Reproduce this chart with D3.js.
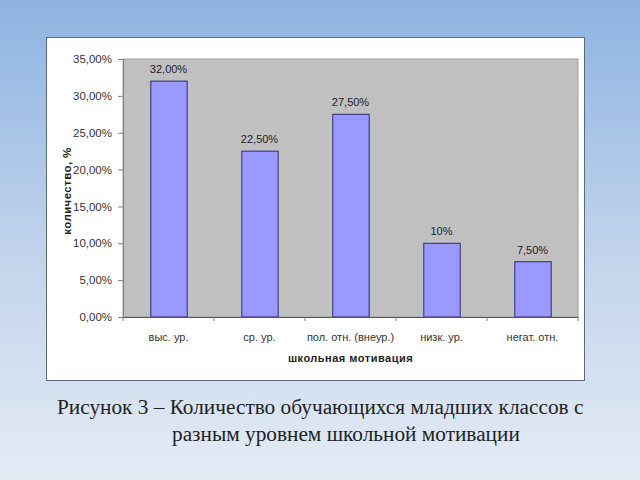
<!DOCTYPE html>
<html><head><meta charset="utf-8">
<script src="https://cdn.jsdelivr.net/npm/d3@7"></script>
<style>body{margin:0;padding:0;overflow:hidden}</style>
</head><body>
<svg id="c" width="640" height="480"></svg>
<script>
const categories = ["выс. ур.", "ср. ур.", "пол. отн. (внеур.)", "низк. ур.", "негат. отн."];
const values = [32, 22.5, 27.5, 10, 7.5];
const valueLabels = ["32,00%", "22,50%", "27,50%", "10%", "7,50%"];
const yTicks = [0, 5, 10, 15, 20, 25, 30, 35];
const yTickLabels = ["0,00%", "5,00%", "10,00%", "15,00%", "20,00%", "25,00%", "30,00%", "35,00%"];
const yTitle = "количество, %";
const xTitle = "школьная мотивация";
const caption1 = "Рисунок 3 – Количество обучающихся младших классов с";
const caption2 = "разным уровнем школьной мотивации";

const svg = d3.select("#c");
const defs = svg.append("defs");
const g = defs.append("linearGradient").attr("id","bg").attr("x1",0).attr("y1",0).attr("x2",0).attr("y2",1);
g.append("stop").attr("offset","0%").attr("stop-color","#8db3e2");
g.append("stop").attr("offset","55%").attr("stop-color","#c3d5ec");
g.append("stop").attr("offset","100%").attr("stop-color","#e4ebf5");
svg.append("rect").attr("width",640).attr("height",480).attr("fill","url(#bg)");

// white panel
svg.append("rect").attr("x",46.5).attr("y",37.5).attr("width",538).attr("height",343)
  .attr("fill","#ffffff").attr("stroke","#5b6b7c").attr("stroke-width",1);

const pL=123, pR=578, pT=59, pB=317;
const x = d3.scaleBand().domain(categories).range([pL,pR]).paddingInner(0.6).paddingOuter(0.3);
const xb = d3.scaleBand().domain(categories).range([pL,pR]);
const y = d3.scaleLinear().domain([0,35]).range([pB,pT]);

svg.append("rect").attr("x",pL).attr("y",pT).attr("width",pR-pL).attr("height",pB-pT)
  .attr("fill","#c0c0c0").attr("stroke","#a0a0a0").attr("stroke-width",1);

svg.selectAll("rect.bar").data(values).enter().append("rect").attr("class","bar")
  .attr("x",(d,i)=>x(categories[i])+0.5).attr("y",d=>y(d))
  .attr("width",x.bandwidth()).attr("height",d=>pB-y(d))
  .attr("fill","#9999ff").attr("stroke","#2b2b7a").attr("stroke-width",1);

svg.selectAll("text.vl").data(values).enter().append("text").attr("class","vl")
  .attr("x",(d,i)=>x(categories[i])+x.bandwidth()/2).attr("y",d=>y(d)-8)
  .attr("text-anchor","middle").attr("font-family","Liberation Sans, Arial, sans-serif")
  .attr("font-size",11).attr("fill","#222").text((d,i)=>valueLabels[i]);

// y axis
const ya = svg.append("g").attr("transform",`translate(${pL},0)`)
  .call(d3.axisLeft(y).tickValues(yTicks).tickFormat((d,i)=>yTickLabels[i]).tickSize(5).tickPadding(6));
ya.select(".domain").attr("stroke","#808080");
ya.selectAll(".tick line").attr("stroke","#808080");
ya.selectAll("text").attr("font-family","Liberation Sans, Arial, sans-serif").attr("font-size",11.5).attr("fill","#333");

// x axis
const xa = svg.append("g").attr("transform",`translate(0,${pB})`)
  .call(d3.axisBottom(xb).tickSize(0).tickPadding(16));
xa.select(".domain").attr("stroke","#555");
xa.selectAll("text").attr("font-family","Liberation Sans, Arial, sans-serif").attr("font-size",11).attr("fill","#333");
svg.selectAll("line.xt").data(d3.range(categories.length+1)).enter().append("line").attr("class","xt")
  .attr("x1",i=>pL+i*xb.step()).attr("x2",i=>pL+i*xb.step())
  .attr("y1",pB).attr("y2",pB+4).attr("stroke","#808080");

svg.append("text").attr("transform",`translate(71,191) rotate(-90)`)
  .attr("text-anchor","middle").attr("font-family","Liberation Sans, Arial, sans-serif")
  .attr("font-size",11.5).attr("font-weight","bold").attr("fill","#222").attr("letter-spacing",0.4).text(yTitle);
svg.append("text").attr("x",(pL+pR)/2).attr("y",362)
  .attr("text-anchor","middle").attr("font-family","Liberation Sans, Arial, sans-serif")
  .attr("font-size",11).attr("font-weight","bold").attr("fill","#222").attr("letter-spacing",0.5).text(xTitle);

svg.append("text").attr("x",57).attr("y",414).attr("font-family","Liberation Serif, Times New Roman, serif")
  .attr("font-size",21.3).attr("fill","#222").text(caption1);
svg.append("text").attr("x",172).attr("y",441).attr("font-family","Liberation Serif, Times New Roman, serif")
  .attr("font-size",21.3).attr("fill","#222").text(caption2);
</script>
</body></html>
